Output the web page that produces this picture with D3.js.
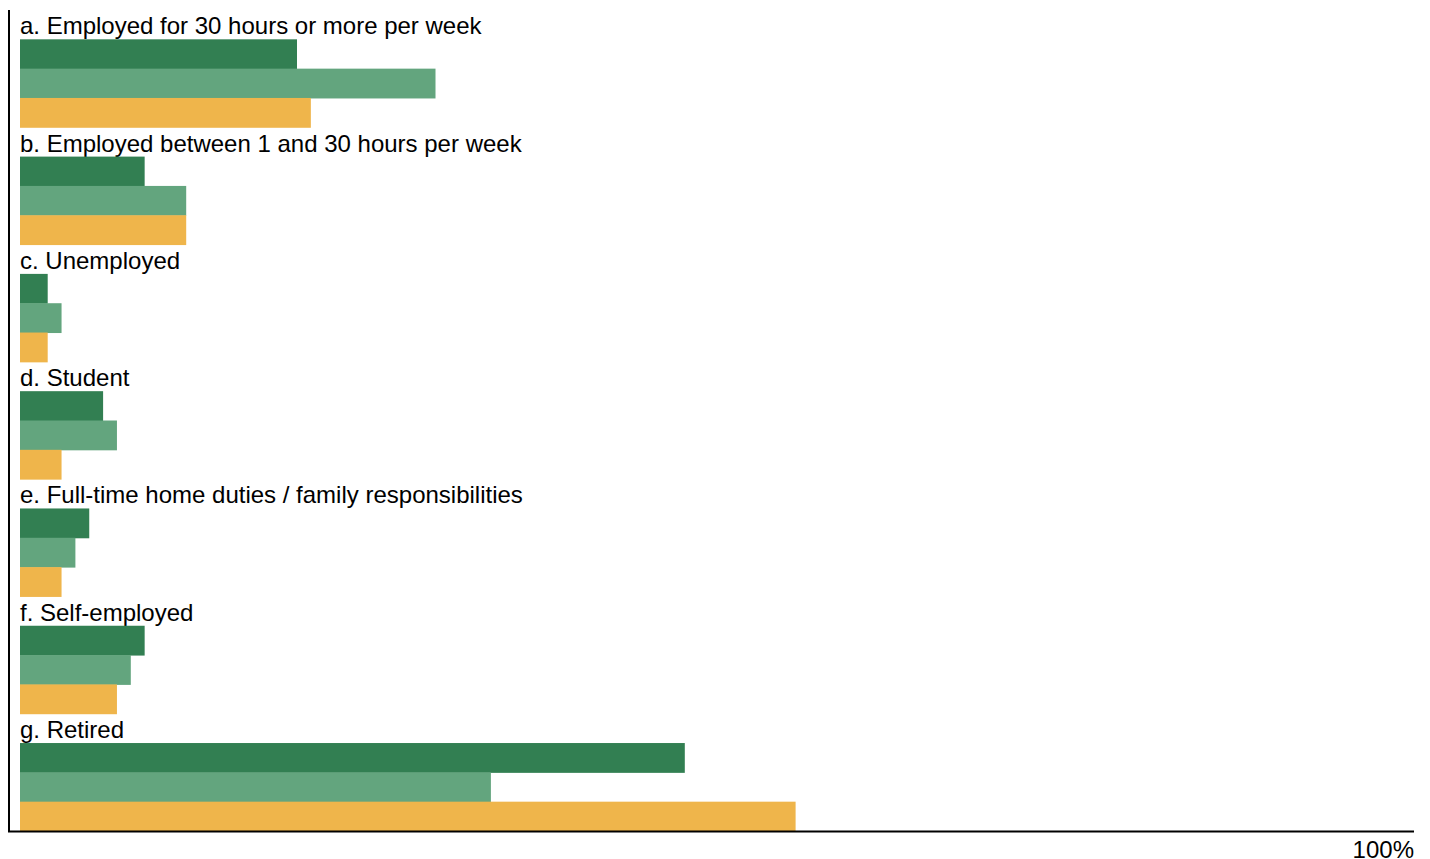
<!DOCTYPE html>
<html>
<head>
<meta charset="utf-8">
<script src="https://cdn.jsdelivr.net/npm/d3@7"></script>
<style>
  body { margin: 0; background: #fff; overflow: hidden; }
  svg { display: block; font-family: "Liberation Sans", Arial, sans-serif; }
</style>
</head>
<body>
<div id="chart"></div>
<script>
const w = 1430;
const h = 859;

const categories = [
    "a. Employed for 30 hours or more per week",
    "b. Employed between 1 and 30 hours per week",
    "c. Unemployed",
    "d. Student",
    "e. Full-time home duties / family responsibilities",
    "f. Self-employed",
    "g. Retired"
];
const seriesA = [20, 9, 2, 6, 5, 9, 48];
const seriesB = [30, 12, 3, 7, 4, 8, 34];
const seriesC = [21, 12, 2, 3, 3, 7, 56];
const colorScheme = ["#327f52", "#63a57e", "#efb54b"];
const axisLabel = "100%";

const series = [seriesA, seriesB, seriesC];

const svg = d3.select("#chart").append("svg").attr("width", w).attr("height", h);

// x runs 0..100 percent
const x = d3.scaleLinear().domain([0, 100]).range([20, 1405]);

// each category takes 4 rows: label row and 3 bars
const rows = d3.scaleBand()
    .domain(d3.range(categories.length * 4))
    .range([10, 831])
    .padding(0);

const groups = svg.selectAll("g.cat")
    .data(categories)
    .enter()
    .append("g")
    .attr("class", "cat");

groups.append("text")
    .attr("x", 20)
    .attr("y", (d, i) => rows(i * 4) + rows.bandwidth() - 5)
    .style("font-size", "24px")
    .style("fill", "#000")
    .text(d => d);

series.forEach((vals, s) => {
    svg.selectAll("rect.s" + s)
        .data(vals)
        .enter()
        .append("rect")
        .attr("class", "s" + s)
        .attr("x", x(0))
        .attr("y", (d, i) => rows(i * 4 + 1 + s))
        .attr("width", d => x(d) - x(0))
        .attr("height", rows.bandwidth() + 0.5)
        .style("fill", colorScheme[s]);
});

// axis lines
svg.append("line")
    .attr("x1", 9).attr("x2", 9)
    .attr("y1", 10).attr("y2", 832)
    .style("stroke", "#000").style("stroke-width", 2);
svg.append("line")
    .attr("x1", 8).attr("x2", 1414)
    .attr("y1", 831.5).attr("y2", 831.5)
    .style("stroke", "#000").style("stroke-width", 2);

svg.append("text")
    .attr("x", 1414)
    .attr("y", 858)
    .attr("text-anchor", "end")
    .style("font-size", "24px")
    .text(axisLabel);
</script>
</body>
</html>
